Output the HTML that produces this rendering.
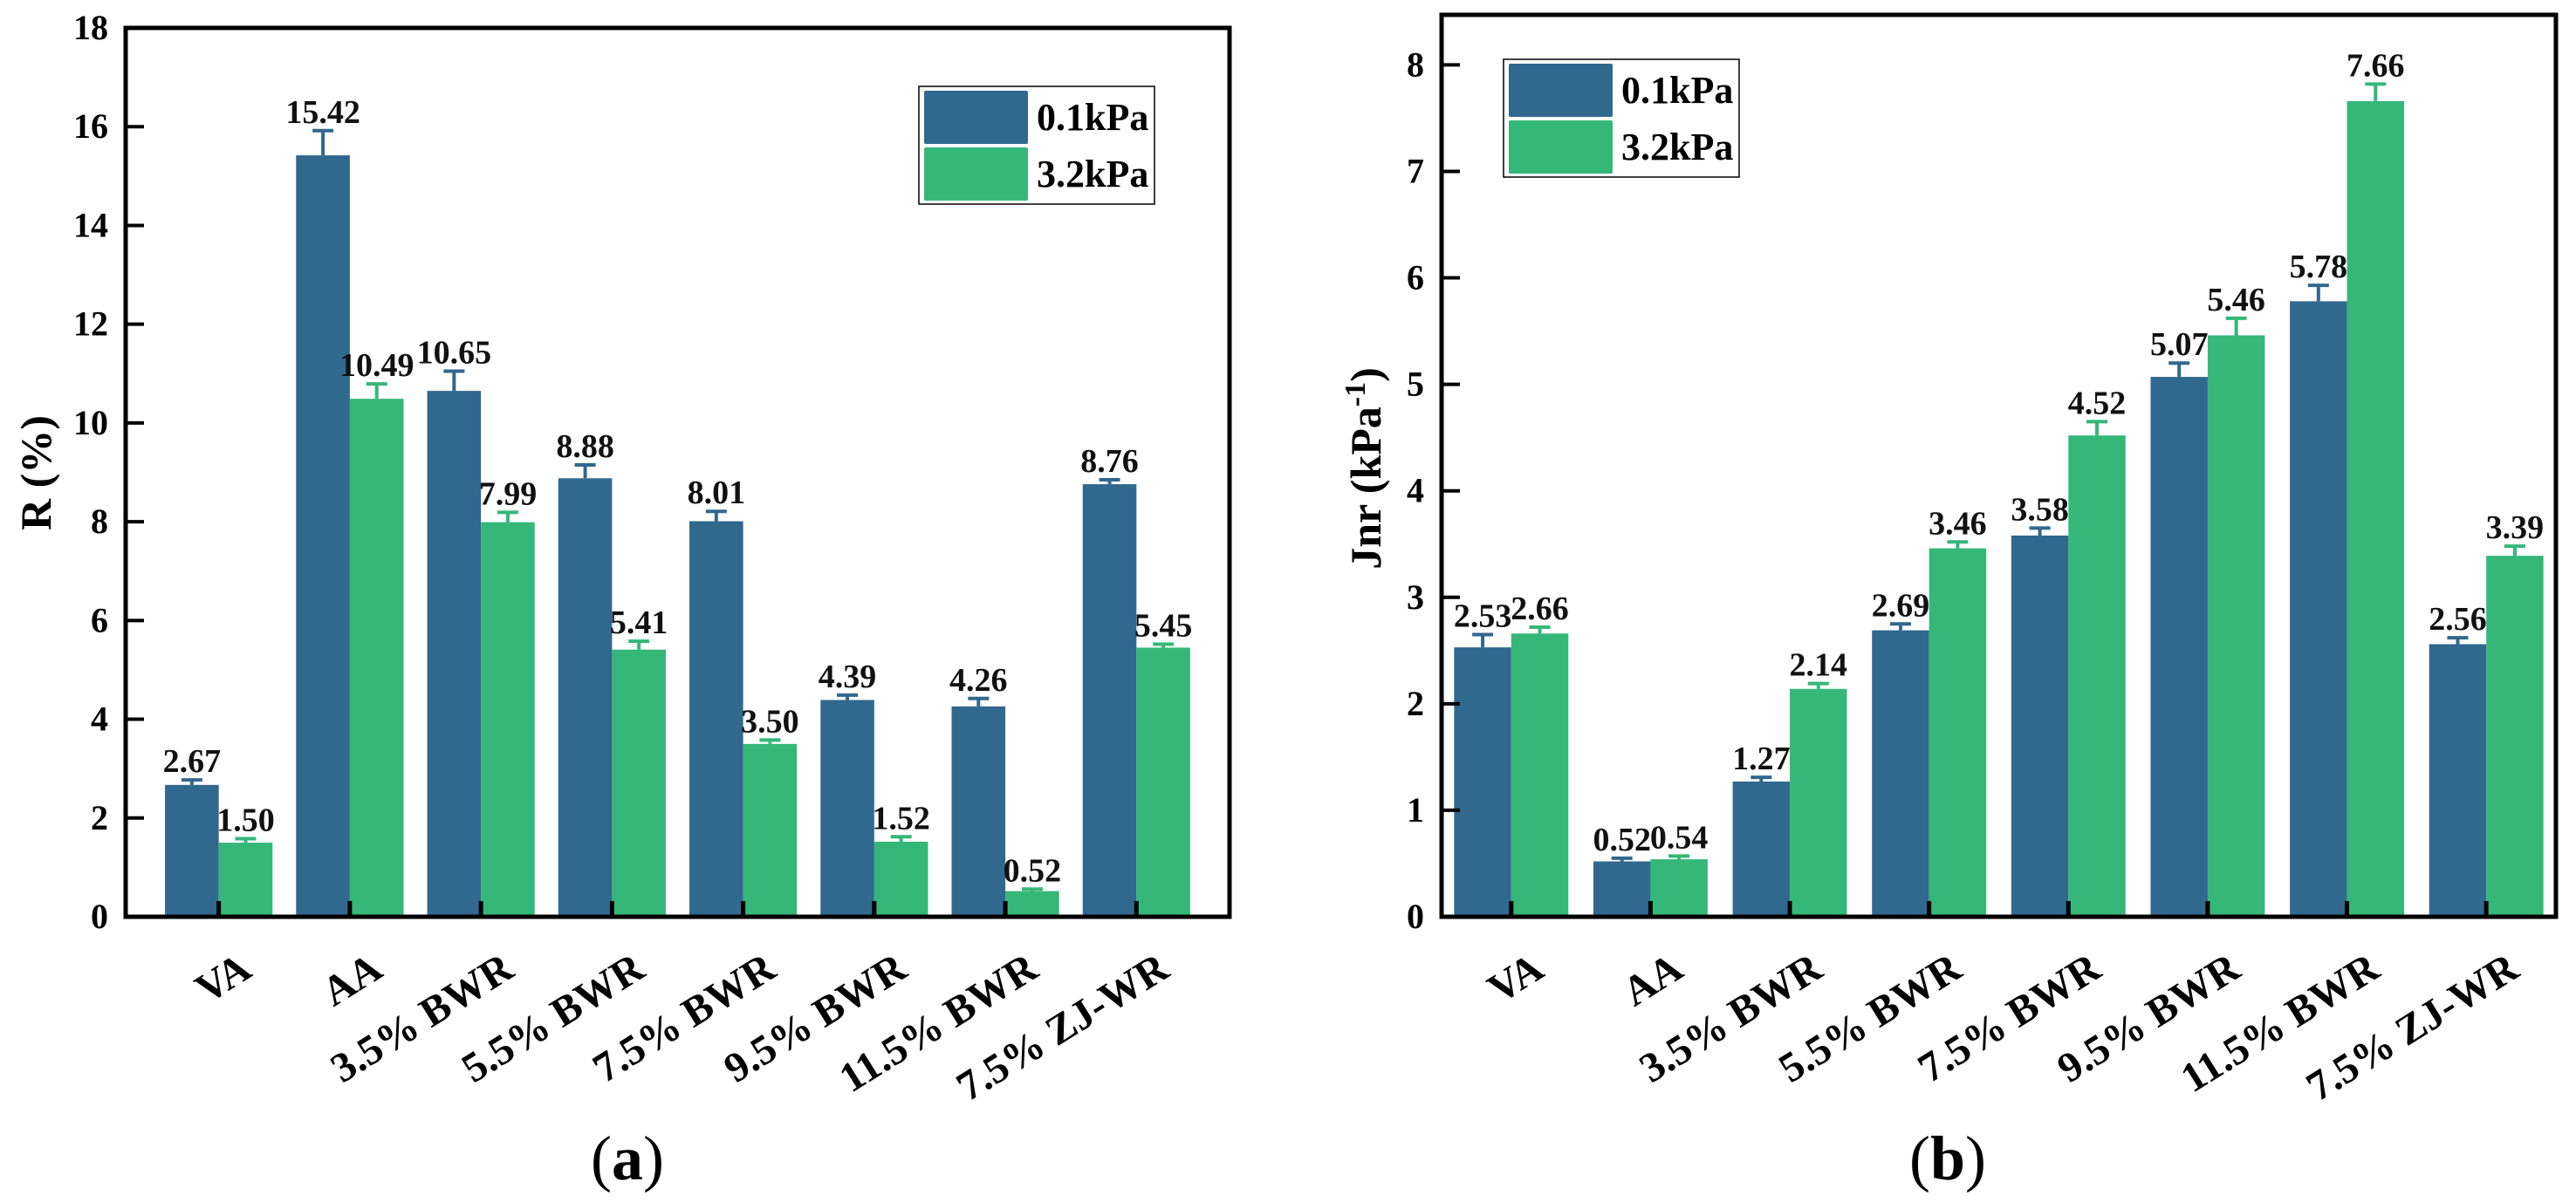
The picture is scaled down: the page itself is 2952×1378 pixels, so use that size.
<!DOCTYPE html>
<html><head><meta charset="utf-8">
<style>
html,body{margin:0;padding:0;background:#fff;}
svg{display:block;font-family:"Liberation Serif",serif;}
</style></head>
<body>
<svg id="fig" width="2952" height="1378" viewBox="0 0 2952 1378" xmlns="http://www.w3.org/2000/svg"></svg>
<script>
const categories = ["VA","AA","3.5% BWR","5.5% BWR","7.5%  BWR","9.5%  BWR","11.5% BWR","7.5% ZJ-WR"];
const seriesNames = ["0.1kPa","3.2kPa"];
const rLow = [2.67,15.42,10.65,8.88,8.01,4.39,4.26,8.76];
const rHigh = [1.50,10.49,7.99,5.41,3.50,1.52,0.52,5.45];
const rLowErr = [0.10,0.50,0.40,0.27,0.20,0.10,0.16,0.09];
const rHighErr = [0.08,0.30,0.20,0.17,0.08,0.10,0.04,0.07];
const jLow = [2.53,0.52,1.27,2.69,3.58,5.07,5.78,2.56];
const jHigh = [2.66,0.54,2.14,3.46,4.52,5.46,7.66,3.39];
const jLowErr = [0.12,0.03,0.04,0.06,0.07,0.13,0.15,0.06];
const jHighErr = [0.06,0.03,0.05,0.06,0.13,0.16,0.16,0.09];
const rTicks = [0,2,4,6,8,10,12,14,16,18];
const jTicks = [0,1,2,3,4,5,6,7,8];

const NS="http://www.w3.org/2000/svg";
const svg=document.getElementById('fig');
const colors=["#31688e","#35b779"];
function mk(tag,attrs,parent){const e=document.createElementNS(NS,tag);for(const k in attrs)e.setAttribute(k,attrs[k]);(parent||svg).appendChild(e);return e;}

function chart(o){
  const g=mk('g',{});
  
  
  const X=v=>o.L+(v-o.xmin)/(o.xmax-o.xmin)*(o.R-o.L);
  const Y=v=>o.B-(v-o.ymin)/(o.ymax-o.ymin)*(o.B-o.T);
  const bw=o.bw*(X(1)-X(0));
  const vals=[o.low,o.high], errs=[o.lowErr,o.highErr];
  categories.forEach((c,i)=>{
    const cx=X(i+1);
    for(let s=0;s<2;s++){
      const v=vals[s][i], e=errs[s][i];
      const x0=s===0?cx-bw:cx;
      const r=mk('rect',{x:x0,y:Y(v),width:bw,height:Y(0)-Y(v),fill:colors[s]},g);
      
      
      const bx=x0+bw/2;
      const el=mk('path',{d:`M${bx},${Y(v)} V${Y(v+e)} M${bx-12},${Y(v+e)} H${bx+12}`,stroke:colors[s],'stroke-width':4,fill:'none'},g);
      
      
      const t=mk('text',{x:bx,y:Y(v+e)-9,'text-anchor':'middle','font-size':38,'font-weight':'bold',fill:'#111'},g);
      t.textContent=v.toFixed(2);
      
      
    }
    const tk=mk('line',{x1:cx,x2:cx,y1:o.B,y2:o.B-18,stroke:'#000','stroke-width':5},g);
    
    
    const lx=cx+40, ly=1118;
    const xl=mk('text',{x:lx,y:ly,'text-anchor':'end','font-size':48,'font-weight':'bold',transform:`rotate(-32 ${lx} ${ly})`,'xml:space':'preserve'},g);
    xl.textContent=c;
    
    
  });
  o.ticks.forEach(t=>{
    const y=Y(t);
    const l=mk('line',{x1:o.L,x2:o.L+21,y1:y,y2:y,stroke:'#000','stroke-width':4},g);
    
    
    const tx=mk('text',{x:o.L-20,y:y+13,'text-anchor':'end','font-size':40,'font-weight':'bold'},g);
    tx.textContent=t;
    
    
  });
  const fr=mk('rect',{x:o.L,y:o.T,width:o.R-o.L,height:o.B-o.T,fill:'none',stroke:'#000','stroke-width':5},g);
  
  
  const lg=mk('g',{},g);
  
  
  mk('rect',{x:o.lgx,y:o.lgy,width:270,height:135,fill:'#fff',stroke:'#000','stroke-width':1.5},lg);
  seriesNames.forEach((n,s)=>{
    const sw=mk('rect',{x:o.lgx+6,y:o.lgy+5+s*65,width:119,height:61,fill:colors[s],rx:2},lg);
    
    
    const lt=mk('text',{x:o.lgx+135,y:o.lgy+50+s*65,'font-size':44,'font-weight':'bold'},lg);
    lt.textContent=n;
    
    
  });
  return g;
}

chart({name:'chart-a',L:144,R:1409,T:32,B:1051,xmin:0.29,xmax:8.71,ymin:0,ymax:18,bw:0.41,
  low:rLow,high:rHigh,lowErr:rLowErr,highErr:rHighErr,ticks:rTicks,lgx:1053,lgy:99});
chart({name:'chart-b',L:1652,R:2929,T:17,B:1051,xmin:0.5,xmax:8.5,ymin:0,ymax:8.47,bw:0.41,
  low:jLow,high:jHigh,lowErr:jLowErr,highErr:jHighErr,ticks:jTicks,lgx:1723,lgy:68});

let t=mk('text',{x:58,y:542,'text-anchor':'middle','font-size':50,'font-weight':'bold',transform:'rotate(-90 58 542)'});
t.textContent='R (%)';


t=mk('text',{x:1582,y:537,'text-anchor':'middle','font-size':50,'font-weight':'bold',transform:'rotate(-90 1582 537)'});
t.innerHTML='Jnr (kPa<tspan dy="-18" font-size="34">-1</tspan><tspan dy="18">)</tspan>';


t=mk('text',{x:719,y:1352,'text-anchor':'middle','font-size':72});
t.innerHTML='(<tspan font-weight="bold">a</tspan>)';


t=mk('text',{x:2232,y:1352,'text-anchor':'middle','font-size':72});
t.innerHTML='(<tspan font-weight="bold">b</tspan>)';


</script>
</body></html>
